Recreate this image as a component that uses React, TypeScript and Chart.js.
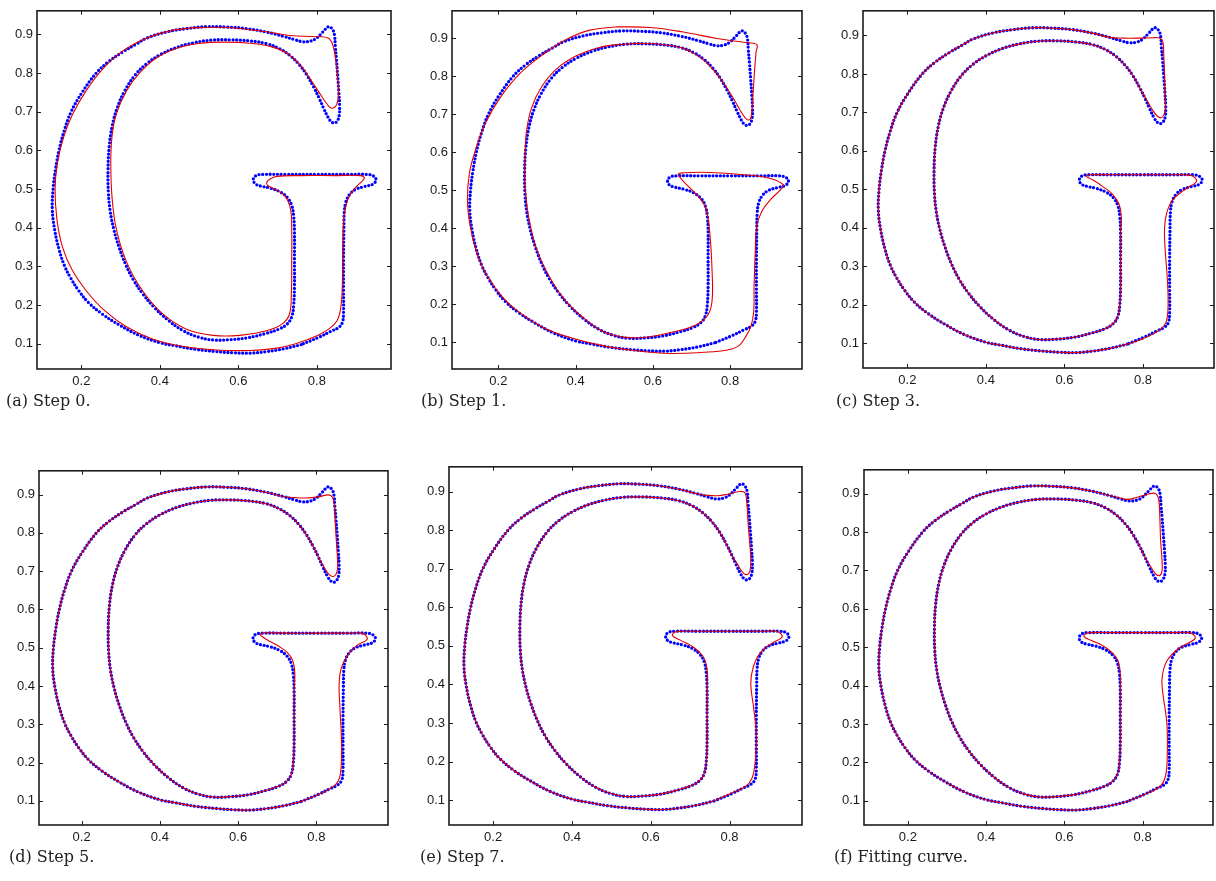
import React, { useEffect, useRef } from "react";
import { Chart, registerables } from "chart.js";

Chart.register(...registerables);

type Pt = [number, number];

// ---- Target glyph "G" (sampled contour), split into pieces ----
// Outer stroke: lower right, along the bottom, up the left side, over the top.
const outerStroke: Pt[] = [
  [0.760, 0.098], [0.715, 0.087], [0.672, 0.080], [0.630, 0.076], [0.587, 0.077],
  [0.545, 0.080], [0.490, 0.086], [0.440, 0.095], [0.400, 0.103], [0.345, 0.123],
  [0.295, 0.150], [0.252, 0.178], [0.218, 0.207], [0.193, 0.238], [0.173, 0.270],
  [0.157, 0.302], [0.143, 0.345], [0.132, 0.395], [0.126, 0.447], [0.128, 0.500],
  [0.134, 0.550], [0.143, 0.600], [0.156, 0.650], [0.174, 0.700], [0.202, 0.750],
  [0.238, 0.800], [0.270, 0.830], [0.306, 0.855], [0.340, 0.875], [0.368, 0.891],
  [0.420, 0.907], [0.468, 0.915], [0.519, 0.920], [0.570, 0.919], [0.621, 0.915],
  [0.672, 0.906], [0.715, 0.895],
];
// Top serif and the hooked tail below it.
const serifTarget: Pt[] = [
  [0.745, 0.886], [0.765, 0.881], [0.785, 0.883], [0.800, 0.891], [0.815, 0.906],
  [0.830, 0.920], [0.840, 0.913], [0.845, 0.898], [0.847, 0.870], [0.850, 0.836],
  [0.853, 0.795], [0.856, 0.752], [0.858, 0.715], [0.857, 0.690], [0.852, 0.676],
  [0.845, 0.671], [0.837, 0.674], [0.829, 0.685], [0.817, 0.710], [0.806, 0.735],
];
// Inner stroke: under the top arc, down the counter, along the bottom and up the inner stem.
const innerStroke: Pt[] = [
  [0.793, 0.762], [0.774, 0.796], [0.755, 0.822], [0.732, 0.845], [0.705, 0.863],
  [0.672, 0.876], [0.630, 0.883], [0.580, 0.886], [0.530, 0.885], [0.485, 0.878],
  [0.442, 0.866], [0.400, 0.847], [0.366, 0.824], [0.337, 0.795], [0.311, 0.755],
  [0.292, 0.712], [0.279, 0.665], [0.271, 0.610], [0.268, 0.550], [0.269, 0.490],
  [0.274, 0.440], [0.283, 0.395], [0.296, 0.350], [0.313, 0.305], [0.333, 0.265],
  [0.356, 0.230], [0.385, 0.195], [0.420, 0.162], [0.458, 0.135], [0.497, 0.118],
  [0.536, 0.110], [0.580, 0.111], [0.625, 0.116], [0.670, 0.127], [0.703, 0.138],
  [0.724, 0.151], [0.736, 0.170], [0.741, 0.200], [0.743, 0.250], [0.743, 0.320],
  [0.743, 0.390],
];
// Inner stem into the left end of the cross bar.
const joinTarget: Pt[] = [
  [0.741, 0.430], [0.736, 0.458], [0.725, 0.478], [0.706, 0.493], [0.680, 0.503],
  [0.657, 0.508], [0.643, 0.514], [0.638, 0.525], [0.645, 0.535], [0.662, 0.538],
];
// Flat top of the cross bar.
const barTop: Pt[] = [[0.720, 0.538], [0.800, 0.538], [0.880, 0.538]];
// Right end of the cross bar, the outer stem and the lower right corner.
const lobeTarget: Pt[] = [
  [0.928, 0.538], [0.944, 0.534], [0.951, 0.524], [0.943, 0.513], [0.922, 0.507],
  [0.900, 0.500], [0.884, 0.487], [0.874, 0.467], [0.870, 0.440], [0.869, 0.400],
  [0.868, 0.320], [0.868, 0.240], [0.868, 0.180], [0.865, 0.155], [0.855, 0.142],
  [0.835, 0.132], [0.805, 0.117],
];

// ---- Fitted curves ----
const fitStep0: Pt[] = [
  [0.587, 0.917], [0.672, 0.907], [0.732, 0.897], [0.800, 0.894], [0.830, 0.890],
  [0.843, 0.864], [0.851, 0.805], [0.855, 0.754], [0.851, 0.720], [0.838, 0.709],
  [0.826, 0.720], [0.809, 0.745], [0.787, 0.779], [0.757, 0.822], [0.723, 0.852],
  [0.681, 0.869], [0.630, 0.877], [0.570, 0.880], [0.502, 0.877], [0.443, 0.864],
  [0.391, 0.839], [0.349, 0.801], [0.315, 0.754], [0.289, 0.694], [0.278, 0.635],
  [0.275, 0.567], [0.278, 0.482], [0.289, 0.397], [0.315, 0.312], [0.357, 0.236],
  [0.409, 0.176], [0.468, 0.138], [0.536, 0.122], [0.604, 0.122], [0.672, 0.134],
  [0.711, 0.151], [0.730, 0.176], [0.735, 0.227], [0.736, 0.312], [0.736, 0.397],
  [0.733, 0.448], [0.719, 0.482], [0.694, 0.499], [0.677, 0.508], [0.672, 0.516],
  [0.681, 0.526], [0.698, 0.533], [0.757, 0.535], [0.843, 0.535], [0.911, 0.535],
  [0.921, 0.529], [0.915, 0.520], [0.902, 0.508], [0.885, 0.486], [0.874, 0.457],
  [0.868, 0.414], [0.866, 0.338], [0.865, 0.253], [0.861, 0.193], [0.851, 0.159],
  [0.830, 0.138], [0.800, 0.121], [0.757, 0.104], [0.698, 0.089], [0.630, 0.083],
  [0.545, 0.084], [0.460, 0.093], [0.383, 0.112], [0.315, 0.144], [0.258, 0.187],
  [0.212, 0.238], [0.176, 0.292], [0.152, 0.350], [0.138, 0.420], [0.133, 0.499],
  [0.139, 0.567], [0.155, 0.635], [0.178, 0.694], [0.212, 0.754], [0.253, 0.809],
  [0.304, 0.856], [0.366, 0.890], [0.434, 0.911], [0.511, 0.918], [0.587, 0.917],
];

const fitStep1: Pt[] = [
  [0.507, 0.931], [0.593, 0.929], [0.679, 0.917], [0.766, 0.900], [0.835, 0.890],
  [0.869, 0.884], [0.867, 0.864], [0.863, 0.812], [0.859, 0.751], [0.856, 0.708],
  [0.852, 0.687], [0.843, 0.687], [0.830, 0.704], [0.813, 0.734], [0.792, 0.769],
  [0.761, 0.812], [0.722, 0.851], [0.679, 0.874], [0.627, 0.884], [0.576, 0.887],
  [0.524, 0.885], [0.463, 0.877], [0.403, 0.855], [0.351, 0.820], [0.312, 0.773],
  [0.286, 0.717], [0.273, 0.656], [0.269, 0.587], [0.269, 0.518], [0.278, 0.432],
  [0.299, 0.345], [0.330, 0.276], [0.368, 0.216], [0.420, 0.164], [0.472, 0.127],
  [0.524, 0.113], [0.576, 0.112], [0.645, 0.125], [0.705, 0.142], [0.740, 0.168],
  [0.753, 0.207], [0.753, 0.293], [0.748, 0.380], [0.742, 0.432], [0.731, 0.466],
  [0.714, 0.488], [0.688, 0.514], [0.666, 0.542], [0.679, 0.546], [0.748, 0.547],
  [0.835, 0.541], [0.904, 0.531], [0.938, 0.514], [0.930, 0.501], [0.904, 0.475],
  [0.882, 0.445], [0.869, 0.406], [0.865, 0.337], [0.862, 0.250], [0.861, 0.181],
  [0.854, 0.142], [0.839, 0.112], [0.822, 0.090], [0.792, 0.079], [0.731, 0.073],
  [0.645, 0.070], [0.558, 0.077], [0.472, 0.090], [0.386, 0.112], [0.317, 0.138],
  [0.256, 0.177], [0.213, 0.216], [0.170, 0.276], [0.144, 0.336], [0.127, 0.406],
  [0.120, 0.475], [0.125, 0.544], [0.140, 0.604], [0.165, 0.674], [0.204, 0.743],
  [0.256, 0.808], [0.317, 0.859], [0.377, 0.898], [0.437, 0.922], [0.507, 0.931],
];

// Later steps only differ from the glyph around the serif, the bar ends and the stem.
const serifStep3: Pt[] = [
  [0.750, 0.893], [0.790, 0.893], [0.825, 0.894], [0.843, 0.893], [0.851, 0.882],
  [0.853, 0.850], [0.855, 0.800], [0.856, 0.750], [0.857, 0.712], [0.853, 0.693],
  [0.846, 0.686], [0.837, 0.690], [0.826, 0.704], [0.812, 0.728],
];
const joinStep3: Pt[] = [
  [0.745, 0.430], [0.739, 0.462], [0.722, 0.488], [0.697, 0.508], [0.672, 0.525],
  [0.656, 0.534], [0.668, 0.538],
];
const lobeStep3: Pt[] = [
  [0.920, 0.537], [0.933, 0.530], [0.936, 0.520], [0.920, 0.508], [0.902, 0.496],
  [0.877, 0.474], [0.862, 0.445], [0.855, 0.400], [0.857, 0.338], [0.862, 0.270],
  [0.864, 0.200], [0.859, 0.155], [0.845, 0.137], [0.825, 0.124], [0.800, 0.112],
];

const serifStep5: Pt[] = [
  [0.745, 0.892], [0.775, 0.891], [0.805, 0.894], [0.830, 0.899], [0.841, 0.893],
  [0.846, 0.870], [0.848, 0.830], [0.851, 0.780], [0.854, 0.730], [0.854, 0.705],
  [0.849, 0.690], [0.841, 0.686], [0.831, 0.693], [0.818, 0.713], [0.806, 0.735],
];
const joinStep5: Pt[] = [
  [0.745, 0.430], [0.740, 0.465], [0.726, 0.487], [0.705, 0.503], [0.680, 0.517],
  [0.660, 0.530], [0.656, 0.535], [0.668, 0.539],
];
const lobeStep5: Pt[] = [
  [0.915, 0.538], [0.928, 0.530], [0.928, 0.520], [0.906, 0.508], [0.881, 0.482],
  [0.864, 0.448], [0.858, 0.405], [0.860, 0.345], [0.864, 0.260], [0.863, 0.185],
  [0.856, 0.152], [0.838, 0.134], [0.808, 0.118],
];

const serifStep7: Pt[] = [
  [0.745, 0.890], [0.770, 0.889], [0.795, 0.893], [0.825, 0.900], [0.839, 0.897],
  [0.844, 0.870], [0.847, 0.820], [0.851, 0.770], [0.854, 0.725], [0.852, 0.695],
  [0.845, 0.685], [0.834, 0.690], [0.820, 0.712], [0.806, 0.735],
];
const joinStep7: Pt[] = [
  [0.744, 0.430], [0.737, 0.465], [0.722, 0.486], [0.700, 0.502], [0.675, 0.515],
  [0.655, 0.527], [0.665, 0.537],
];
const lobeStep7: Pt[] = [
  [0.918, 0.538], [0.932, 0.530], [0.932, 0.521], [0.908, 0.507], [0.878, 0.482],
  [0.860, 0.444], [0.854, 0.401], [0.861, 0.342], [0.868, 0.274], [0.865, 0.198],
  [0.857, 0.157], [0.840, 0.135], [0.806, 0.119],
];

const serifFinal: Pt[] = [
  [0.740, 0.889], [0.760, 0.885], [0.785, 0.890], [0.815, 0.899], [0.833, 0.900],
  [0.841, 0.885], [0.844, 0.840], [0.846, 0.780], [0.850, 0.720], [0.849, 0.695],
  [0.842, 0.686], [0.832, 0.692], [0.819, 0.713], [0.806, 0.735],
];
const joinFinal: Pt[] = [
  [0.743, 0.430], [0.737, 0.465], [0.720, 0.488], [0.695, 0.506], [0.668, 0.518],
  [0.650, 0.528], [0.660, 0.537],
];
const lobeFinal: Pt[] = [
  [0.920, 0.538], [0.933, 0.530], [0.932, 0.520], [0.894, 0.498], [0.862, 0.464],
  [0.850, 0.421], [0.851, 0.387], [0.862, 0.302], [0.863, 0.216], [0.858, 0.162],
  [0.843, 0.136], [0.808, 0.118],
];

// ---- Axes ----
const xTickValues = [0.2, 0.4, 0.6, 0.8];
const yTickValues = [0.1, 0.2, 0.3, 0.4, 0.5, 0.6, 0.7, 0.8, 0.9];
const xLimits: Pt[] = [
  [0.087, 0.989], [0.080, 0.986], [0.087, 0.981],
  [0.091, 0.983], [0.088, 0.984], [0.088, 0.980],
];
const yLimits: Pt[] = [
  [0.035, 0.961], [0.029, 0.973], [0.036, 0.964],
  [0.037, 0.962], [0.036, 0.964], [0.037, 0.962],
];
const captions = [
  "(a) Step 0.", "(b) Step 1.", "(c) Step 3.",
  "(d) Step 5.", "(e) Step 7.", "(f) Fitting curve.",
];

const closeLoop = (pts: Pt[]): Pt[] => [...pts, pts[0]];

const glyph = closeLoop([
  ...outerStroke, ...serifTarget, ...innerStroke, ...joinTarget, ...barTop, ...lobeTarget,
]);
const compose = (serif: Pt[], join: Pt[], lobe: Pt[]): Pt[] =>
  closeLoop([...outerStroke, ...serif, ...innerStroke, ...join, ...barTop, ...lobe]);

const fits: Pt[][] = [
  fitStep0,
  fitStep1,
  compose(serifStep3, joinStep3, lobeStep3),
  compose(serifStep5, joinStep5, lobeStep5),
  compose(serifStep7, joinStep7, lobeStep7),
  compose(serifFinal, joinFinal, lobeFinal),
];

// ---- Layout (page pixels): plot frame [left, top, right, bottom] and caption anchor ----
const frames = [
  [37, 5, 391, 369], [452, 5, 802, 369], [863, 5, 1214, 368],
  [39, 465, 388, 825], [449, 461, 802, 825], [864, 464, 1213, 825],
];
const captionAt = [
  [6, 401], [421, 401], [836, 401],
  [9, 857], [420, 857], [834, 857],
];

const AXIS_W = 44;
const AXIS_H = 30;
const PAD_T = 6;
const PAD_R = 4;
const TICK_FONT = "'Liberation Sans', Arial, Helvetica, sans-serif";

// Box round the plot area with short inward tick marks on all four sides.
const boxTicks = {
  id: "boxTicks",
  afterDatasetsDraw(chart: any) {
    const { ctx, chartArea: a, scales } = chart;
    const x = scales.x;
    const y = scales.y;
    const len = 4;
    ctx.save();
    ctx.strokeStyle = "#1c1c1c";
    ctx.lineWidth = 1;
    ctx.beginPath();
    for (const t of x.ticks) {
      const px = Math.round(x.getPixelForValue(t.value)) + 0.5;
      ctx.moveTo(px, a.bottom);
      ctx.lineTo(px, a.bottom - len);
      ctx.moveTo(px, a.top);
      ctx.lineTo(px, a.top + len);
    }
    for (const t of y.ticks) {
      const py = Math.round(y.getPixelForValue(t.value)) + 0.5;
      ctx.moveTo(a.left, py);
      ctx.lineTo(a.left + len, py);
      ctx.moveTo(a.right, py);
      ctx.lineTo(a.right - len, py);
    }
    ctx.stroke();
    ctx.lineWidth = 1.6;
    ctx.strokeRect(a.left, a.top, a.right - a.left, a.bottom - a.top);
    ctx.restore();
  },
};

function Panel({ index }: { index: number }) {
  const ref = useRef<HTMLCanvasElement>(null);
  const [l, t, r, b] = frames[index];
  const w = r - l + AXIS_W + PAD_R;
  const h = b - t + PAD_T + AXIS_H;

  useEffect(() => {
    const toXY = (pts: Pt[]) => pts.map(([x, y]) => ({ x, y }));
    const chart = new Chart(ref.current as HTMLCanvasElement, {
      type: "scatter",
      data: {
        datasets: [
          {
            label: "fit",
            data: toXY(fits[index]),
            showLine: true,
            borderColor: "rgb(224,0,0)",
            borderWidth: 1.1,
            pointRadius: 0,
            tension: 0.4,
            fill: false,
          },
          {
            label: "target",
            data: toXY(glyph),
            showLine: true,
            borderColor: "rgb(0,0,255)",
            borderWidth: 3.3,
            borderDash: [0, 3.7],
            borderCapStyle: "round",
            pointRadius: 0,
            tension: 0.4,
            fill: false,
          },
        ],
      } as any,
      options: {
        animation: false,
        responsive: false,
        maintainAspectRatio: false,
        events: [],
        layout: { padding: { left: 0, top: PAD_T, right: PAD_R, bottom: 0 } },
        plugins: {
          legend: { display: false },
          tooltip: { enabled: false },
        },
        scales: {
          x: {
            type: "linear",
            min: xLimits[index][0],
            max: xLimits[index][1],
            grid: { display: false, drawTicks: false },
            border: { display: false },
            afterBuildTicks: (s: any) => {
              s.ticks = xTickValues.map((v) => ({ value: v }));
            },
            afterFit: (s: any) => {
              s.height = AXIS_H;
            },
            ticks: {
              padding: 5,
              color: "#1a1a1a",
              font: { family: TICK_FONT, size: 13 },
              maxRotation: 0,
              autoSkip: false,
              callback: (v: any) => Number(v).toFixed(1),
            },
          },
          y: {
            type: "linear",
            min: yLimits[index][0],
            max: yLimits[index][1],
            grid: { display: false, drawTicks: false },
            border: { display: false },
            afterBuildTicks: (s: any) => {
              s.ticks = yTickValues.map((v) => ({ value: v }));
            },
            afterFit: (s: any) => {
              s.width = AXIS_W;
            },
            ticks: {
              padding: 4,
              color: "#1a1a1a",
              font: { family: TICK_FONT, size: 13 },
              autoSkip: false,
              callback: (v: any) => Number(v).toFixed(1),
            },
          },
        },
      } as any,
      plugins: [boxTicks],
    });
    return () => chart.destroy();
  }, [index]);

  const [cx, cy] = captionAt[index];
  return (
    <>
      <canvas
        ref={ref}
        width={w}
        height={h}
        style={{ position: "absolute", left: l - AXIS_W, top: t - PAD_T, width: w, height: h }}
      />
      <div
        style={{
          position: "absolute",
          left: cx,
          top: cy - 10,
          fontFamily: "'DejaVu Serif', serif",
          fontSize: 16,
          lineHeight: "20px",
          color: "#222",
          whiteSpace: "nowrap",
        }}
      >
        {captions[index]}
      </div>
    </>
  );
}

export default function App() {
  return (
    <div
      style={{
        position: "absolute",
        left: 0,
        top: 0,
        width: 1216,
        height: 881,
        overflow: "hidden",
        background: "#fff",
      }}
    >
      {[0, 1, 2, 3, 4, 5].map((i) => (
        <Panel key={i} index={i} />
      ))}
    </div>
  );
}
